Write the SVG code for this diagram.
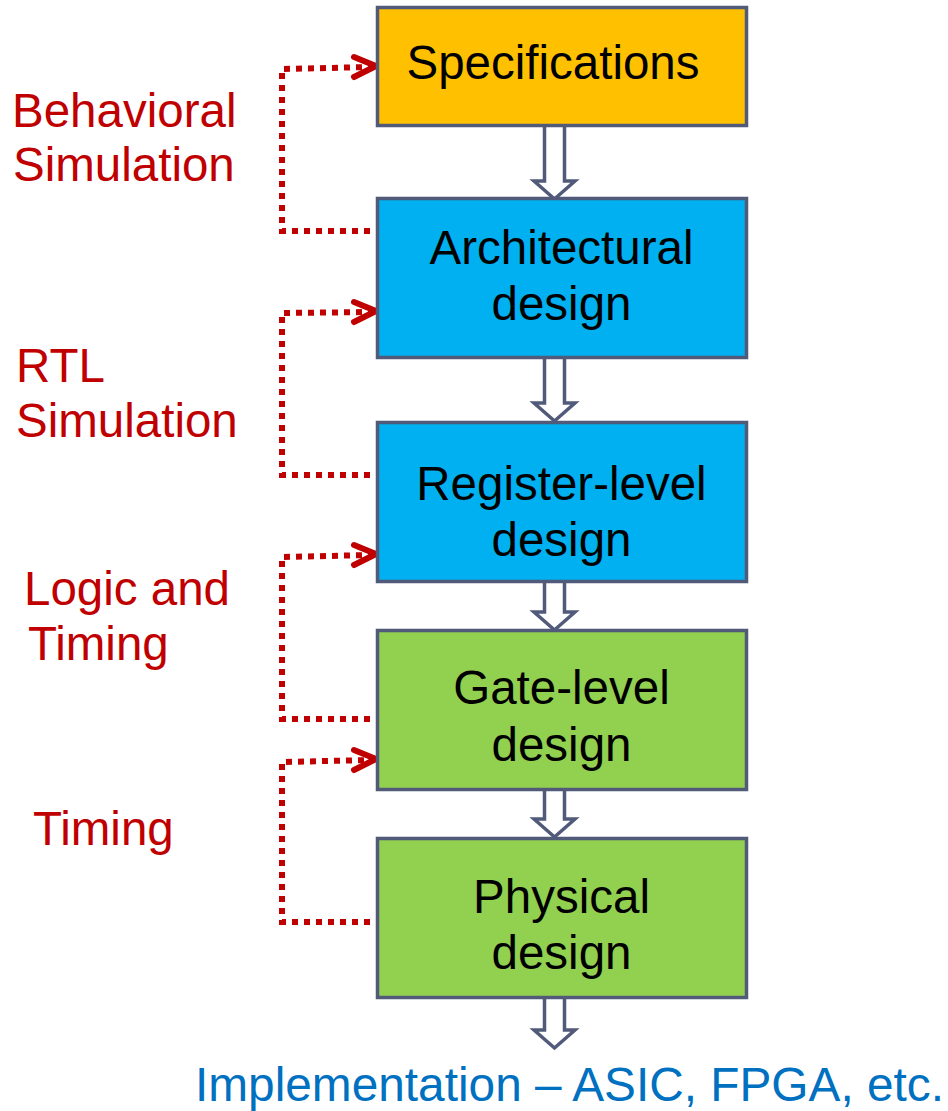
<svg xmlns="http://www.w3.org/2000/svg" width="948" height="1111" viewBox="0 0 948 1111">
<style>
.box{stroke:#525A7A;stroke-width:3.5}
.t{font-family:"Liberation Sans",Arial,sans-serif;font-size:47.5px;fill:#000;text-anchor:middle}
.lab{font-family:"Liberation Sans",Arial,sans-serif;font-size:47.5px;fill:#C00000}
.dot{fill:none;stroke:#C00000;stroke-width:6;stroke-dasharray:6 6}
.head{fill:none;stroke:#C00000;stroke-width:6;stroke-linecap:round;stroke-linejoin:round}
.flow{fill:#fff;stroke:#525A7A;stroke-width:3.5;stroke-linejoin:miter}
</style>
<rect width="948" height="1111" fill="#fff"/>
<g id="connectors">
  <polygon class="flow" points="544.5,120 564.5,120 564.5,181 575,181 554.5,199 534,181 544.5,181"/>
  <polygon class="flow" points="544.5,355 564.5,355 564.5,403 575,403 554.5,421 534,403 544.5,403"/>
  <polygon class="flow" points="544.5,580 564.5,580 564.5,612 575,612 554.5,630 534,612 544.5,612"/>
  <polygon class="flow" points="544.5,788 564.5,788 564.5,819 575,819 554.5,837 534,819 544.5,819"/>
  <polygon class="flow" points="544.5,996 564.5,996 564.5,1030 575,1030 554.5,1048 534,1030 544.5,1030"/>
  <path class="dot" d="M370,231 H282 V69 L372,67"/>
  <path class="head" d="M354,57 L376,66 L354,77"/>
  <path class="dot" d="M370,475 H282 V313 L372,312"/>
  <path class="head" d="M354,302 L376,311 L354,322"/>
  <path class="dot" d="M370,719 H282 V557 L372,555"/>
  <path class="head" d="M354,545 L376,554 L354,565"/>
  <path class="dot" d="M370,922 H282 V762 L372,760"/>
  <path class="head" d="M354,750 L376,759 L354,770"/>
</g>
<g id="spec">
  <rect class="box" x="377.5" y="7.5" width="369" height="118" fill="#FFC000"/>
  <text class="t" x="553" y="79">Specifications</text>
</g>
<g id="arch">
  <rect class="box" x="377.5" y="198.5" width="369" height="159" fill="#00B0F0"/>
  <text class="t" x="561.5" y="264">Architectural</text>
  <text class="t" x="561.5" y="320">design</text>
</g>
<g id="reg">
  <rect class="box" x="377.5" y="422.5" width="369" height="159" fill="#00B0F0"/>
  <text class="t" x="561.5" y="500">Register-level</text>
  <text class="t" x="561.5" y="556">design</text>
</g>
<g id="gate">
  <rect class="box" x="377.5" y="630.5" width="369" height="159" fill="#92D050"/>
  <text class="t" x="561.5" y="704">Gate-level</text>
  <text class="t" x="561.5" y="761">design</text>
</g>
<g id="phys">
  <rect class="box" x="377.5" y="838.5" width="369" height="159" fill="#92D050"/>
  <text class="t" x="561.5" y="913">Physical</text>
  <text class="t" x="561.5" y="969">design</text>
</g>
<g id="labels">
  <text class="lab" x="12" y="127">Behavioral</text>
  <text class="lab" x="13" y="181">Simulation</text>
  <text class="lab" x="16" y="382">RTL</text>
  <text class="lab" x="16" y="437">Simulation</text>
  <text class="lab" x="24" y="605">Logic and</text>
  <text class="lab" x="28" y="660">Timing</text>
  <text class="lab" x="33" y="845">Timing</text>
</g>
<g id="impl">
  <text x="195" y="1101" font-family="'Liberation Sans',Arial,sans-serif" font-size="47.5" fill="#0070C0" textLength="749" lengthAdjust="spacingAndGlyphs">Implementation – ASIC, FPGA, etc.</text>
</g>
</svg>
